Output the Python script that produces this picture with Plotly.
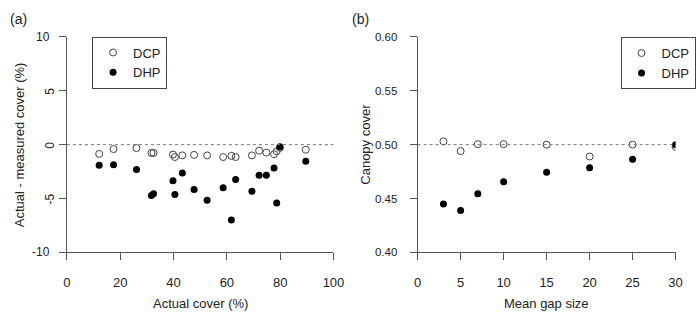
import plotly.graph_objects as go

# ---- Panel (a) data ----
actual_cover = [12.1, 17.5, 26.1, 31.7, 32.5, 39.8, 40.5, 43.3, 47.7, 52.6,
                58.6, 61.7, 63.3, 69.4, 72.1, 74.8, 77.7, 78.7, 79.9, 89.6]
dcp_diff = [-0.86, -0.41, -0.32, -0.77, -0.77, -0.92, -1.15, -1.0, -0.95, -1.0,
            -1.15, -1.04, -1.15, -1.0, -0.56, -0.74, -0.89, -0.62, -0.3, -0.47]
dhp_diff = [-1.92, -1.87, -2.31, -4.71, -4.56, -3.35, -4.62, -2.64, -4.15, -5.16,
            -4.0, -7.0, -3.23, -4.33, -2.85, -2.85, -2.16, -5.42, -0.2, -1.54]

# ---- Panel (b) data ----
gap_size = [3, 5, 7, 10, 15, 20, 25, 30]
dcp_canopy = [0.503, 0.494, 0.5005, 0.5005, 0.500, 0.489, 0.500, 0.498]
dhp_canopy = [0.445, 0.439, 0.4545, 0.4655, 0.4745, 0.4785, 0.4865, 0.500]

xa_ticks = [0, 20, 40, 60, 80, 100]
ya_ticks = [-10, -5, 0, 5, 10]
xb_ticks = [0, 5, 10, 15, 20, 25, 30]
yb_ticks = [0.40, 0.45, 0.50, 0.55, 0.60]

W, H = 700, 322
FONT = "Liberation Sans, Arial, sans-serif"
AX = "#555555"
TXT = "#222222"


def px(x):
    return x / W


def py(y):
    return 1 - y / H


fig = go.Figure()

open_marker = dict(symbol="circle-open", size=7, color="#444444", line=dict(width=1, color="#444444"))
fill_marker = dict(symbol="circle", size=7, color="black")

fig.add_trace(go.Scatter(x=actual_cover, y=dcp_diff, mode="markers", name="DCP",
                         marker=open_marker, xaxis="x", yaxis="y", legend="legend"))
fig.add_trace(go.Scatter(x=actual_cover, y=dhp_diff, mode="markers", name="DHP",
                         marker=fill_marker, xaxis="x", yaxis="y", legend="legend"))
fig.add_trace(go.Scatter(x=gap_size, y=dcp_canopy, mode="markers", name="DCP",
                         marker=open_marker, xaxis="x2", yaxis="y2", legend="legend2"))
fig.add_trace(go.Scatter(x=gap_size, y=dhp_canopy, mode="markers", name="DHP",
                         marker=fill_marker, xaxis="x2", yaxis="y2", legend="legend2"))

axis_common = dict(showline=True, linecolor=AX, linewidth=1, ticks="outside", ticklen=7,
                   tickcolor=AX, tickwidth=1, showgrid=False, zeroline=False)
xtickfont = dict(family=FONT, size=13, color=TXT)
ytickfont = dict(family=FONT, size=11.5, color=TXT)

y_dom = [py(256), py(32)]
legend_common = dict(xanchor="left", yanchor="top", bordercolor="#444444", borderwidth=1,
                     bgcolor="white", font=dict(family=FONT, size=13, color=TXT),
                     tracegroupgap=0, itemwidth=30)
fig.update_layout(
    width=W, height=H, margin=dict(l=0, r=0, t=0, b=0),
    paper_bgcolor="white", plot_bgcolor="white",
    font=dict(family=FONT, size=13, color=TXT),
    xaxis=dict(domain=[px(64.3), px(336.7)], range=[0, 100], tickvals=xa_ticks,
               anchor="y", ticklabelstandoff=11, tickfont=xtickfont, **axis_common),
    yaxis=dict(domain=y_dom, range=[-10, 10], tickvals=ya_ticks, showticklabels=False,
               anchor="x", **axis_common),
    xaxis2=dict(domain=[px(422.7), px(686.3)], range=[0, 30], tickvals=xb_ticks,
                anchor="y2", ticklabelstandoff=11, tickfont=xtickfont, **axis_common),
    yaxis2=dict(domain=y_dom, range=[0.40, 0.60], tickvals=yb_ticks,
                tickformat=".2f", anchor="x2", ticklabelstandoff=10, tickfont=ytickfont,
                **axis_common),
    legend=dict(x=px(90), y=py(31.7), **legend_common),
    legend2=dict(x=px(630), y=py(32.3), **legend_common),
    showlegend=True,
)

# dotted reference lines at zero / 0.5
fig.add_shape(type="line", xref="x domain", yref="y", x0=0, x1=1, y0=0, y1=0,
              line=dict(color="#777777", width=1, dash="dot"))
fig.add_shape(type="line", xref="x2 domain", yref="y2", x0=0, x1=1, y0=0.5, y1=0.5,
              line=dict(color="#777777", width=1, dash="dot"))

annots = []
# left y tick labels (short ones drawn parallel to the axis, as in the reference)
for v in ya_ticks:
    lab = str(v)
    if abs(v) >= 10:
        annots.append(dict(x=px(49), y=v, xref="paper", yref="y", text=lab, showarrow=False,
                           xanchor="right", yanchor="middle", font=dict(size=12)))
    else:
        annots.append(dict(x=px(47), y=v, xref="paper", yref="y", text=lab, showarrow=False,
                           textangle=-90, xanchor="center", yanchor="middle", font=dict(size=12)))

annots += [
    dict(x=px(16), y=py(144), xref="paper", yref="paper", text="Actual - measured cover (%)",
         showarrow=False, textangle=-90, xanchor="center", yanchor="middle", font=dict(size=13)),
    dict(x=px(370), y=py(144), xref="paper", yref="paper", text="Canopy cover",
         showarrow=False, textangle=-90, xanchor="center", yanchor="middle", font=dict(size=13)),
    dict(x=px(200.5), y=py(309), xref="paper", yref="paper", text="Actual cover (%)",
         showarrow=False, xanchor="center", yanchor="middle", font=dict(size=13)),
    dict(x=px(554.5), y=py(309), xref="paper", yref="paper", text="Mean gap size",
         showarrow=False, xanchor="center", yanchor="middle", font=dict(size=13)),
    dict(x=px(4), y=py(14), xref="paper", yref="paper", text="(a)", showarrow=False,
         xanchor="left", yanchor="middle", font=dict(size=14)),
    dict(x=px(354), y=py(14), xref="paper", yref="paper", text="(b)", showarrow=False,
         xanchor="left", yanchor="middle", font=dict(size=14)),
]
fig.update_layout(annotations=annots)

fig.write_html("out.html")
